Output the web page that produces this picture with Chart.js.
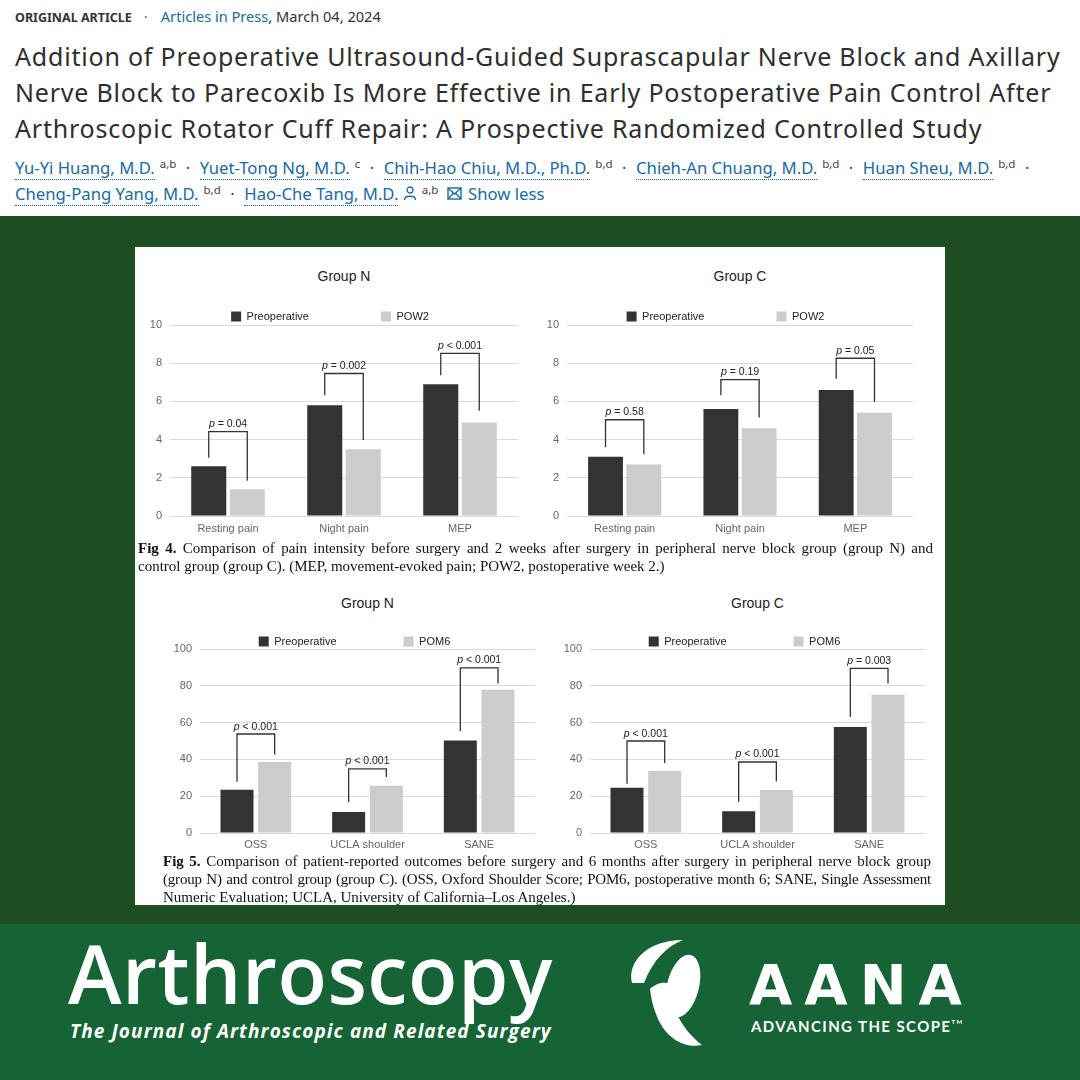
<!DOCTYPE html>
<html>
<head>
<meta charset="utf-8">
<script src="https://cdn.jsdelivr.net/npm/chart.js@4.4.1/dist/chart.umd.min.js"></script>
<style>
  body { margin: 0; width: 1080px; height: 1080px; overflow: hidden; position: relative; background: #fff; font-family: "Noto Sans", sans-serif; }
  .abs { position: absolute; }
  .meta { left: 15px; top: 6px; font-size: 14.6px; line-height: 20px; color: #333; white-space: nowrap; }
  .title { left: 15px; top: 38px; font-size: 25px; letter-spacing: 0.8px; line-height: 36px; color: #2e2e2e; white-space: nowrap; }
  .authors { left: 15px; top: 155px; font-size: 16.7px; line-height: 26px; color: #555; white-space: nowrap; }
  .authors a { color: #1a6aa0; text-decoration: none; border-bottom: 1px dotted #1a6aa0; }
  .authors sup { font-size: 11.5px; color: #444; margin-left: 5px; vertical-align: 6px; line-height: 0; }
  .authors .sep { margin: 0 9.5px; color: #444; }
  #band { left: 0; top: 216px; width: 1080px; height: 708px; background: #1d4e21; }
  #panel { left: 135px; top: 247px; width: 810px; height: 658px; background: #fff; }
  #foot { left: 0; top: 924px; width: 1080px; height: 156px; background: #166335; }
  canvas { position: absolute; }
  .gt { position: absolute; font-family: "Liberation Sans", Arial, sans-serif; font-size: 14px; color: #222; text-align: center; line-height: 16px; }
  .cap { position: absolute; font-family: "Liberation Serif", serif; font-size: 15px; line-height: 18px; color: #111; }
  .cap div { text-align: justify; text-align-last: justify; white-space: nowrap; }
  .cap div.last { text-align-last: left; }
  .logo1 { left: 68px; top: 918px; font-family: "Open Sans", sans-serif; font-weight: 600; font-size: 81px; line-height: 110px; color: #fff; letter-spacing: 0.5px; }
  .logo1s { left: 70px; top: 1019px; font-family: "Open Sans", sans-serif; font-weight: 700; font-style: italic; font-size: 19px; line-height: 24px; color: #fff; white-space: nowrap; letter-spacing: 1.1px; }
  .aana { left: 749px; top: 953px; font-family: "DejaVu Sans", sans-serif; font-weight: 700; font-size: 56px; line-height: 64px; color: #fff; letter-spacing: 12px; }
  .aanas { left: 751px; top: 1016px; font-family: Lato, sans-serif; font-weight: 700; font-size: 15px; line-height: 20px; color: #fff; letter-spacing: 1.4px; white-space: nowrap; }
</style>
</head>
<body>

<div class="abs meta"><b style="font-size:12.5px">ORIGINAL ARTICLE</b><span style="margin:0 13px 0 12px;color:#666">·</span><span style="color:#1a6aa0">Articles in Press</span>, March 04, 2024</div>
<div class="abs title">Addition of Preoperative Ultrasound-Guided Suprascapular Nerve Block and Axillary<br>Nerve Block to Parecoxib Is More Effective in Early Postoperative Pain Control After<br>Arthroscopic Rotator Cuff Repair: A Prospective Randomized Controlled Study</div>
<div class="abs authors"><a>Yu-Yi Huang, M.D.</a><sup>a,b</sup><span class="sep">·</span><a>Yuet-Tong Ng, M.D.</a><sup>c</sup><span class="sep">·</span><a>Chih-Hao Chiu, M.D., Ph.D.</a><sup>b,d</sup><span class="sep">·</span><a>Chieh-An Chuang, M.D.</a><sup>b,d</sup><span class="sep">·</span><a>Huan Sheu, M.D.</a><sup>b,d</sup><span class="sep">·</span><br><a>Cheng-Pang Yang, M.D.</a><sup>b,d</sup><span class="sep">·</span><a>Hao-Che Tang, M.D.</a> <svg width="14" height="15" viewBox="0 0 14 15" style="vertical-align:-1px"><circle cx="7" cy="4" r="3" fill="none" stroke="#1a6aa0" stroke-width="1.3"/><path d="M1.5 14 C1.5 9 12.5 9 12.5 14" fill="none" stroke="#1a6aa0" stroke-width="1.3"/></svg><sup>a,b</sup> <svg width="15" height="13" viewBox="0 0 15 13" style="vertical-align:0px;margin-left:4px"><rect x="1" y="1" width="13" height="11" fill="none" stroke="#1a6aa0" stroke-width="1.4"/><path d="M1 1 L7.5 7 L14 1 M1 12 L6 6.5 M14 12 L9 6.5" fill="none" stroke="#1a6aa0" stroke-width="1.3"/></svg> <span style="color:#1a6aa0;margin-left:2px">Show less</span></div>

<div class="abs" id="band"></div>
<div class="abs" id="panel"></div>
<div class="abs" id="foot"></div>

<div class="gt" style="left:170px;top:268px;width:348px">Group N</div>
<div class="gt" style="left:567px;top:268px;width:346px">Group C</div>
<div class="gt" style="left:200px;top:595px;width:335px">Group N</div>
<div class="gt" style="left:590px;top:595px;width:335px">Group C</div>

<canvas id="c1" width="376" height="301" style="left:142px;top:239px"></canvas>
<canvas id="c2" width="375" height="301" style="left:538px;top:239px"></canvas>
<canvas id="c3" width="361" height="284" style="left:174px;top:569px"></canvas>
<canvas id="c4" width="361" height="284" style="left:564px;top:569px"></canvas>

<div class="cap" style="left:138px;top:539px;width:795px">
  <div><b>Fig 4.</b> Comparison of pain intensity before surgery and 2 weeks after surgery in peripheral nerve block group (group N) and</div>
  <div class="last">control group (group C). (MEP, movement-evoked pain; POW2, postoperative week 2.)</div>
</div>
<div class="cap" style="left:163px;top:852px;width:768px">
  <div><b>Fig 5.</b> Comparison of patient-reported outcomes before surgery and 6 months after surgery in peripheral nerve block group</div>
  <div style="letter-spacing:-0.2px">(group N) and control group (group C). (OSS, Oxford Shoulder Score; POM6, postoperative month 6; SANE, Single Assessment</div>
  <div class="last">Numeric Evaluation; UCLA, University of California–Los Angeles.)</div>
</div>

<div class="abs logo1">Arthroscopy</div>
<div class="abs logo1s">The Journal of Arthroscopic and Related Surgery</div>
<svg class="abs" style="left:625px;top:936px" width="85" height="118" viewBox="0 0 85 118">
  <path d="M7 47 C2 26 22 4 58 4 C42 10 28 24 19 47 Z" fill="#fff"/>
  <ellipse cx="58" cy="50" rx="16" ry="32" transform="rotate(14 58 50)" fill="#fff"/>
  <path d="M25 53 C33 46 40 46 45 48 C46 70 55 92 77 109 C58 113 42 101 34 85 C29 75 26 63 25 53 Z" fill="#fff"/>
</svg>
<div class="abs aana">AANA</div>
<div class="abs aanas">ADVANCING THE SCOPE<sup style="font-size:6px;vertical-align:8px;line-height:0">TM</sup></div>

<script>
// Fig 4: pain scores
var painLabels = ["Resting pain", "Night pain", "MEP"];
var painTicks = [0, 2, 4, 6, 8, 10];
var groupNPre = [2.6, 5.8, 6.9];
var groupNPow2 = [1.4, 3.5, 4.9];
var groupCPre = [3.1, 5.6, 6.6];
var groupCPow2 = [2.7, 4.6, 5.4];

// Fig 5: patient-reported outcomes
var outcomeLabels = ["OSS", "UCLA shoulder", "SANE"];
var outcomeTicks = [0, 20, 40, 60, 80, 100];
var groupNPreOut = [23.5, 11.4, 50.3];
var groupNPom6 = [38.6, 25.7, 77.9];
var groupCPreOut = [24.6, 11.8, 57.6];
var groupCPom6 = [33.7, 23.4, 75.2];

// p-value brackets: label, bracket top, left leg end, right leg end (data units)
var pN4 = ["p = 0.04", "p = 0.002", "p < 0.001"];
var topN4 = [4.42, 7.46, 8.51];
var leftN4 = [3.05, 6.32, 7.37];
var rightN4 = [1.84, 3.98, 5.51];

var pC4 = ["p = 0.58", "p = 0.19", "p = 0.05"];
var topC4 = [5.04, 7.14, 8.26];
var leftC4 = [3.6, 6.32, 7.18];
var rightC4 = [3.23, 5.16, 5.97];

var pN5 = ["p < 0.001", "p < 0.001", "p < 0.001"];
var topN5 = [53.8, 34.8, 89.7];
var leftN5 = [27.9, 16.7, 55.4];
var rightN5 = [42.7, 30.4, 81.2];

var pC5 = ["p < 0.001", "p < 0.001", "p = 0.003"];
var topC5 = [50, 38.6, 89.5];
var leftC5 = [26.8, 17, 63];
var rightC5 = [38, 28, 81.3];

var FONT = "'Liberation Sans', Arial, sans-serif";

function bracketPlugin(texts, tops, lefts, rights) {
  return {
    id: "brackets",
    afterDatasetsDraw: function(chart) {
      var ctx = chart.ctx, y = chart.scales.y;
      var a = chart.getDatasetMeta(0).data, b = chart.getDatasetMeta(1).data;
      ctx.save();
      ctx.strokeStyle = "#333";
      ctx.lineWidth = 1.3;
      ctx.fillStyle = "#222";
      ctx.textBaseline = "alphabetic";
      for (var i = 0; i < tops.length; i++) {
        var x1 = a[i].x, x2 = b[i].x, yt = y.getPixelForValue(tops[i]);
        ctx.beginPath();
        ctx.moveTo(x1, y.getPixelForValue(lefts[i]));
        ctx.lineTo(x1, yt);
        ctx.lineTo(x2, yt);
        ctx.lineTo(x2, y.getPixelForValue(rights[i]));
        ctx.stroke();
        var rest = texts[i].slice(1);
        ctx.font = "italic 10.5px " + FONT;
        var w1 = ctx.measureText("p").width;
        ctx.font = "10.5px " + FONT;
        var w2 = ctx.measureText(rest).width;
        var x0 = (x1 + x2) / 2 - (w1 + w2) / 2;
        ctx.font = "italic 10.5px " + FONT;
        ctx.fillText("p", x0, yt - 4.5);
        ctx.font = "10.5px " + FONT;
        ctx.fillText(rest, x0 + w1, yt - 4.5);
      }
      ctx.restore();
    }
  };
}

function pairChart(id, labels, pre, post, postName, ticks, plugin, lay) {
  new Chart(document.getElementById(id), {
    type: "bar",
    data: {
      labels: labels,
      datasets: [
        { label: "Preoperative", data: pre, backgroundColor: "#333333", borderWidth: 0,
          categoryPercentage: lay.cat, barPercentage: lay.bar },
        { label: postName, data: post, backgroundColor: "#cccccc", borderWidth: 0,
          categoryPercentage: lay.cat, barPercentage: lay.bar }
      ]
    },
    options: {
      responsive: false,
      animation: false,
      plugins: {
        tooltip: { enabled: false },
        legend: {
          position: "top",
          maxHeight: lay.legendH,
          labels: { boxWidth: 10, boxHeight: 10, padding: lay.legendPad, color: "#222",
                    font: { family: FONT, size: 11 } }
        }
      },
      scales: {
        x: {
          grid: { display: false, drawTicks: false },
          border: { display: false },
          ticks: { color: "#666", padding: lay.xPad, maxRotation: 0, font: { family: FONT, size: 11 } },
          afterFit: function(s) { s.height = lay.xH; }
        },
        y: {
          min: ticks[0],
          max: ticks[ticks.length - 1],
          grid: { color: "#dadada", drawTicks: false },
          border: { display: false },
          ticks: { stepSize: ticks[1] - ticks[0], color: "#666", padding: 8, font: { family: FONT, size: 11 } },
          afterFit: function(s) { s.width = lay.yW; }
        }
      }
    },
    plugins: [plugin]
  });
}

var fig4 = { cat: 0.664, bar: 0.91, legendH: 86, legendPad: 72, xPad: 6, xH: 24 };
var fig5 = { cat: 0.675, bar: 0.875, legendH: 80, legendPad: 67, xPad: 5, xH: 20 };

pairChart("c1", painLabels, groupNPre, groupNPow2, "POW2", painTicks,
  bracketPlugin(pN4, topN4, leftN4, rightN4), Object.assign({ yW: 28 }, fig4));
pairChart("c2", painLabels, groupCPre, groupCPow2, "POW2", painTicks,
  bracketPlugin(pC4, topC4, leftC4, rightC4), Object.assign({ yW: 29 }, fig4));
pairChart("c3", outcomeLabels, groupNPreOut, groupNPom6, "POM6", outcomeTicks,
  bracketPlugin(pN5, topN5, leftN5, rightN5), Object.assign({ yW: 26 }, fig5));
pairChart("c4", outcomeLabels, groupCPreOut, groupCPom6, "POM6", outcomeTicks,
  bracketPlugin(pC5, topC5, leftC5, rightC5), Object.assign({ yW: 26 }, fig5));
</script>
</body>
</html>
